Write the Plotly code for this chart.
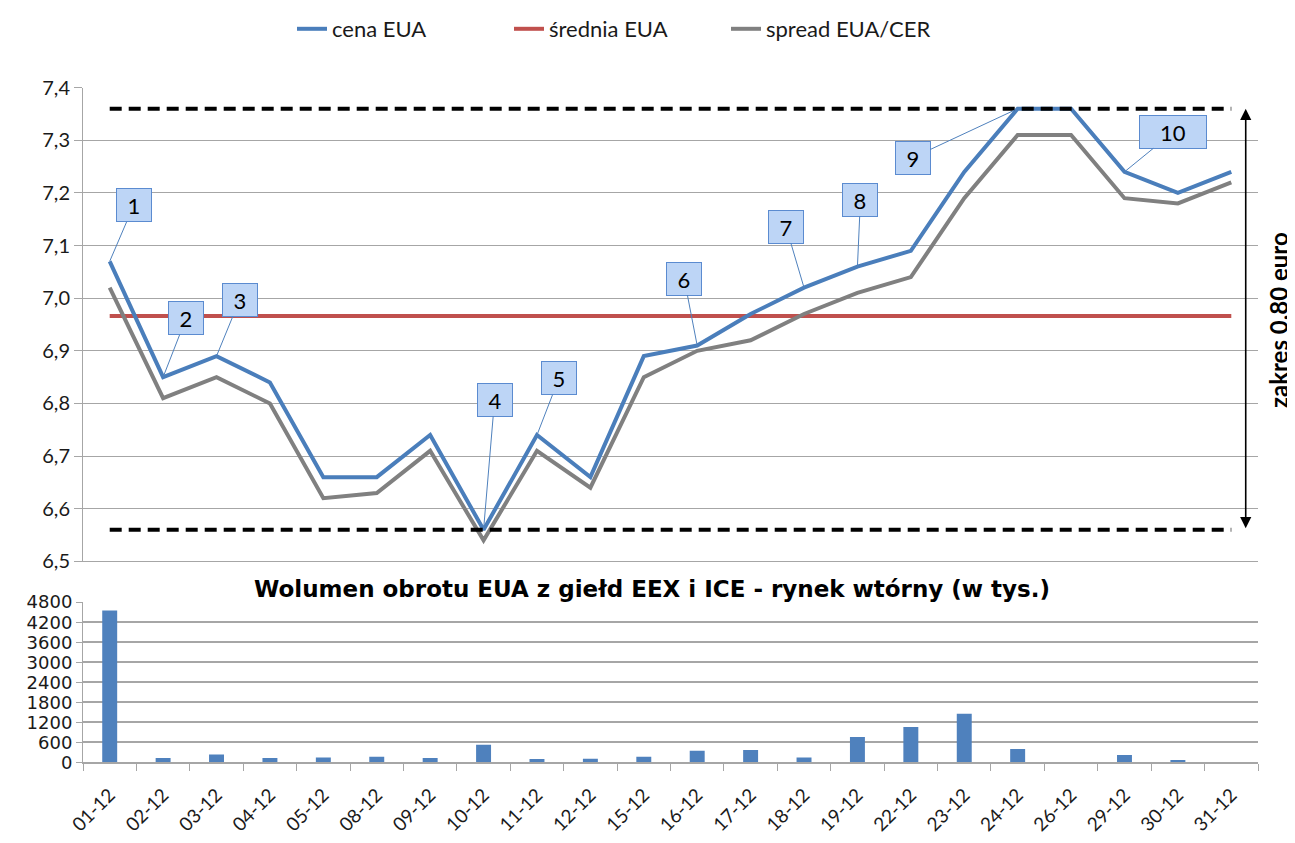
import plotly.graph_objects as go

# ---------------- data ----------------
dates = ["01-12", "02-12", "03-12", "04-12", "05-12", "08-12", "09-12", "10-12",
         "11-12", "12-12", "15-12", "16-12", "17-12", "18-12", "19-12", "22-12",
         "23-12", "24-12", "26-12", "29-12", "30-12", "31-12"]
cena_eua = [7.07, 6.85, 6.89, 6.84, 6.66, 6.66, 6.74, 6.56, 6.74, 6.66, 6.89,
            6.91, 6.97, 7.02, 7.06, 7.09, 7.24, 7.36, 7.36, 7.24, 7.20, 7.24]
spread_eua_cer = [7.02, 6.81, 6.85, 6.80, 6.62, 6.63, 6.71, 6.54, 6.71, 6.64, 6.85,
                  6.90, 6.92, 6.97, 7.01, 7.04, 7.19, 7.31, 7.31, 7.19, 7.18, 7.22]
srednia_eua = 6.966
zakres_max = 7.36
zakres_min = 6.56
wolumen = [4550, 130, 240, 130, 150, 170, 130, 530, 100, 110, 170, 350, 370, 150,
           760, 1060, 1460, 400, 0, 220, 70, 0]
callout_labels = ["1", "2", "3", "4", "5", "6", "7", "8", "9", "10"]
callout_dates = ["01-12", "02-12", "03-12", "10-12", "11-12", "16-12", "18-12",
                 "19-12", "24-12", "29-12"]
top_ticks = [6.5, 6.6, 6.7, 6.8, 6.9, 7.0, 7.1, 7.2, 7.3, 7.4]
top_ticktext = ["6,5", "6,6", "6,7", "6,8", "6,9", "7,0", "7,1", "7,2", "7,3", "7,4"]
bottom_ticks = [0, 600, 1200, 1800, 2400, 3000, 3600, 4200, 4800]

# ---------------- style ----------------
FONT = "Lato"
WIDE = "DejaVu Sans"
BLUE = "#4a7ebb"
RED = "#c0504d"
GRAY = "#808080"
GRID = "#a6a6a6"
TXT = "#1a1a1a"

W, H = 1295, 843
OFF = 8  # page body margin


def px_x(p):
    return (p - OFF) / W


def px_y(p):
    return 1 - (p - OFF) / H


x_dom = [px_x(83), px_x(1258)]
y_top = [px_y(560), px_y(84)]
y_bot = [px_y(762), px_y(601)]

fig = go.Figure()

fig.add_trace(go.Scatter(x=dates, y=[srednia_eua] * len(dates), mode="lines",
                         name="średnia EUA", line=dict(color=RED, width=4),
                         legendrank=2, xaxis="x", yaxis="y"))
fig.add_trace(go.Scatter(x=dates, y=spread_eua_cer, mode="lines",
                         name="spread EUA/CER", line=dict(color=GRAY, width=4),
                         legendrank=3, xaxis="x", yaxis="y"))
fig.add_trace(go.Scatter(x=dates, y=cena_eua, mode="lines",
                         name="cena EUA", line=dict(color=BLUE, width=4),
                         legendrank=1, xaxis="x", yaxis="y"))
for lvl in (zakres_max, zakres_min):
    fig.add_trace(go.Scatter(x=dates, y=[lvl] * len(dates), mode="lines",
                             showlegend=False, hoverinfo="skip",
                             line=dict(color="black", width=4, dash="12px,7px"),
                             xaxis="x", yaxis="y"))

fig.add_trace(go.Bar(x=dates, y=wolumen, marker=dict(color="#4f81bd", line=dict(width=0)),
                     showlegend=False, xaxis="x2", yaxis="y2"))

# callouts
offsets = [(24, -56), (23, -59), (23, -56), (11, -130), (22, -57), (-13, -67),
           (-18, -61), (3, -67), (-105, 49), (49, -40)]
annotations = []
for lab, d, (ax, ay) in zip(callout_labels, callout_dates, offsets):
    yv = cena_eua[dates.index(d)]
    annotations.append(dict(
        x=d, y=yv, xref="x", yref="y", text=lab, showarrow=True,
        ax=ax, ay=ay, arrowhead=0, arrowwidth=1, arrowcolor="#4f81bd",
        bgcolor="#bdd5f6", bordercolor="#5b8bd0", borderwidth=1,
        width=64 if len(lab) > 1 else 32, height=30,
        font=dict(family=FONT, size=22, color="black"), standoff=0))

# range arrow
annotations.append(dict(
    x=21.27, y=zakres_max, xref="x", yref="y", ax=21.27, ay=zakres_min,
    axref="x", ayref="y", text="", showarrow=True, arrowhead=2, arrowsize=1.4,
    arrowside="end+start", arrowwidth=1.6, arrowcolor="black"))
annotations.append(dict(
    x=px_x(1295), y=px_y(318), xref="paper", yref="paper", showarrow=False,
    xanchor="right", yanchor="middle",
    text="<b>zakres 0,80 euro</b>", textangle=-90,
    font=dict(family=FONT, size=24, color="black")))
annotations.append(dict(
    x=px_x(652), y=px_y(588), xref="paper", yref="paper", showarrow=False,
    xanchor="center", yanchor="middle",
    text="<b>Wolumen obrotu EUA z giełd EEX i ICE - rynek wtórny (w tys.)</b>",
    font=dict(family=WIDE, size=23, color="black")))

fig.update_layout(
    width=W, height=H, margin=dict(l=0, r=0, t=0, b=0),
    paper_bgcolor="white", plot_bgcolor="white",
    font=dict(family=FONT, color=TXT),
    showlegend=True,
    legend=dict(orientation="h", x=px_x(292), xanchor="left", y=px_y(25), yanchor="middle",
                font=dict(family=FONT, size=22, color=TXT),
                entrywidth=172, entrywidthmode="pixels", traceorder="normal"),
    bargap=0.72,
    annotations=annotations,
    xaxis=dict(domain=x_dom, anchor="y", type="category", categoryarray=dates,
               range=[-0.5, 21.5], showticklabels=False, showgrid=False,
               showline=True, linecolor=GRID, linewidth=1, ticks=""),
    yaxis=dict(domain=y_top, anchor="x", range=[6.5, 7.4], tickvals=top_ticks,
               ticktext=top_ticktext, showgrid=True, gridcolor=GRID, gridwidth=1,
               showline=True, linecolor=GRID, ticks="outside", ticklen=8,
               tickcolor=GRID, tickfont=dict(family=FONT, size=20, color=TXT),
               zeroline=False, automargin=False),
    xaxis2=dict(domain=x_dom, anchor="y2", type="category", categoryarray=dates,
                range=[-0.5, 21.5], tickangle=-45, showgrid=False, showline=True,
                linecolor=GRID, linewidth=2, ticks="outside", tickson="boundaries",
                ticklen=7, tickcolor=GRID, tickfont=dict(family=FONT, size=19, color=TXT),
                ticklabelstandoff=12, automargin=False),
    yaxis2=dict(domain=y_bot, anchor="x2", range=[0, 4800], tickvals=bottom_ticks,
                showgrid=True, gridcolor=GRID, gridwidth=2, showline=True,
                linecolor=GRID, ticks="outside", ticklen=6, tickcolor=GRID,
                tickfont=dict(family=WIDE, size=18, color=TXT), zeroline=False,
                automargin=False),
)

fig.write_html("out.html")
